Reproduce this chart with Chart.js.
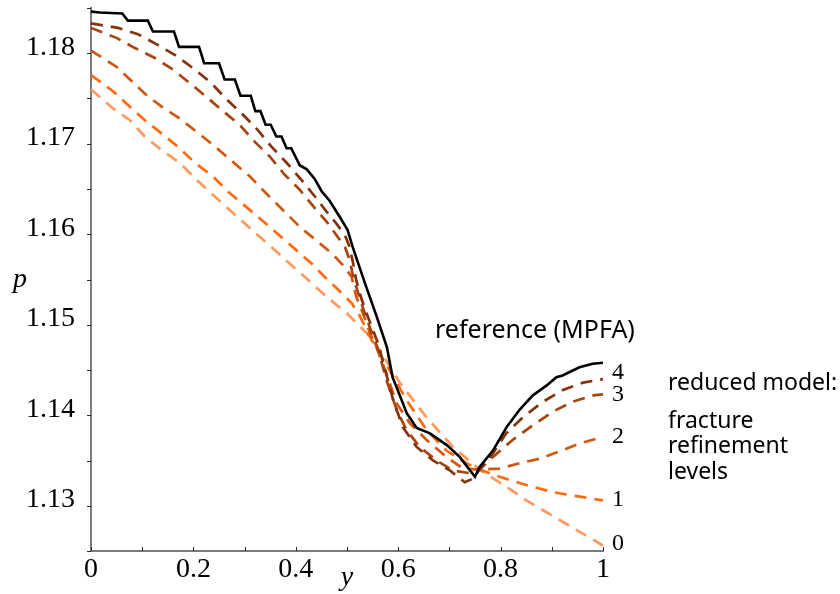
<!DOCTYPE html>
<html>
<head>
<meta charset="utf-8">
<script src="https://cdn.jsdelivr.net/npm/chart.js@4.4.1/dist/chart.umd.min.js"></script>
<style>
  html, body { margin: 0; padding: 0; background: #ffffff; }
  canvas { display: block; }
</style>
</head>
<body>
<canvas id="chart" width="840" height="594"></canvas>
<script>
// Pressure p along the fracture coordinate y.
// Reference solution (MPFA)
const yRef = [0, 0.017, 0.061, 0.072, 0.111, 0.121, 0.162, 0.172, 0.211, 0.221, 0.25, 0.261, 0.281, 0.292, 0.312, 0.321, 0.331, 0.341, 0.351, 0.362, 0.372, 0.382, 0.391, 0.408, 0.421, 0.437, 0.451, 0.466, 0.486, 0.501, 0.511, 0.535, 0.558, 0.578, 0.589, 0.617, 0.636, 0.662, 0.695, 0.72, 0.75, 0.759, 0.785, 0.812, 0.837, 0.863, 0.89, 0.909, 0.921, 0.954, 0.98, 1];
const pRef = [1.1846, 1.1845, 1.1844, 1.1836, 1.1836, 1.1824, 1.1824, 1.1807, 1.1807, 1.1789, 1.1789, 1.1771, 1.1771, 1.1753, 1.1753, 1.1736, 1.1736, 1.1721, 1.1721, 1.1708, 1.1708, 1.1695, 1.1695, 1.1676, 1.1672, 1.1661, 1.1647, 1.1637, 1.1619, 1.1605, 1.1586, 1.1546, 1.1509, 1.1475, 1.1442, 1.1402, 1.1386, 1.1380, 1.1367, 1.1354, 1.1332, 1.1343, 1.1361, 1.1387, 1.1406, 1.1422, 1.1433, 1.1442, 1.1444, 1.1453, 1.1457, 1.1458];

// Reduced model, fracture refinement level 4
const yLvl4 = [0, 0.053, 0.092, 0.131, 0.167, 0.203, 0.235, 0.265, 0.297, 0.326, 0.352, 0.382, 0.411, 0.437, 0.460, 0.479, 0.496, 0.505, 0.512, 0.518, 0.528, 0.538, 0.548, 0.561, 0.590, 0.609, 0.636, 0.668, 0.701, 0.730, 0.746, 0.759, 0.785, 0.811, 0.844, 0.883, 0.922, 0.961, 1];
const pLvl4 = [1.1833, 1.1828, 1.1821, 1.1809, 1.1797, 1.1782, 1.1767, 1.1749, 1.1732, 1.1715, 1.1697, 1.1679, 1.1660, 1.1642, 1.1625, 1.1612, 1.1599, 1.1586, 1.1568, 1.1549, 1.1529, 1.1513, 1.1498, 1.1479, 1.1417, 1.1387, 1.1365, 1.1350, 1.1339, 1.1326, 1.1330, 1.1340, 1.1358, 1.1380, 1.1398, 1.1415, 1.1428, 1.1436, 1.1440];

// level 3
const yLvl3 = [0, 0.050, 0.085, 0.124, 0.160, 0.193, 0.225, 0.258, 0.290, 0.320, 0.349, 0.378, 0.408, 0.434, 0.460, 0.482, 0.496, 0.505, 0.512, 0.528, 0.538, 0.548, 0.561, 0.577, 0.597, 0.616, 0.642, 0.675, 0.707, 0.740, 0.759, 0.785, 0.824, 0.863, 0.902, 0.941, 0.981, 1];
const pLvl3 = [1.1828, 1.1817, 1.1806, 1.1795, 1.1782, 1.1767, 1.1752, 1.1736, 1.1721, 1.1702, 1.1686, 1.1666, 1.1649, 1.1631, 1.1614, 1.1597, 1.1586, 1.1572, 1.1553, 1.1524, 1.1507, 1.1492, 1.1472, 1.1439, 1.1406, 1.1384, 1.1365, 1.1350, 1.1339, 1.1336, 1.1340, 1.1354, 1.1373, 1.1389, 1.1404, 1.1415, 1.1422, 1.1423];

// level 2
const yLvl2 = [0, 0.050, 0.076, 0.108, 0.138, 0.173, 0.209, 0.242, 0.277, 0.310, 0.339, 0.408, 0.434, 0.470, 0.492, 0.509, 0.518, 0.531, 0.544, 0.557, 0.577, 0.597, 0.623, 0.655, 0.694, 0.727, 0.759, 0.798, 0.837, 0.876, 0.915, 0.955, 1];
const pLvl2 = [1.1803, 1.1785, 1.1771, 1.1754, 1.1741, 1.1728, 1.1712, 1.1697, 1.1680, 1.1664, 1.1647, 1.1608, 1.1596, 1.1579, 1.1566, 1.1553, 1.1531, 1.1513, 1.1492, 1.1476, 1.1446, 1.1413, 1.1391, 1.1373, 1.1354, 1.1341, 1.1340, 1.1341, 1.1347, 1.1352, 1.1360, 1.1369, 1.1376];

// level 1
const yLvl1 = [0, 0.043, 0.076, 0.105, 0.141, 0.173, 0.203, 0.238, 0.268, 0.339, 0.408, 0.434, 0.456, 0.486, 0.509, 0.522, 0.535, 0.548, 0.583, 0.616, 0.655, 0.694, 0.733, 0.759, 0.798, 0.850, 0.902, 0.955, 1];
const pLvl1 = [1.1776, 1.1758, 1.1741, 1.1726, 1.1710, 1.1695, 1.1679, 1.1664, 1.1647, 1.1613, 1.1579, 1.1566, 1.1553, 1.1537, 1.1524, 1.1513, 1.1498, 1.1483, 1.1450, 1.1417, 1.1384, 1.1361, 1.1347, 1.1340, 1.1332, 1.1323, 1.1315, 1.1310, 1.1306];

// level 0
const yLvl0 = [0, 0.043, 0.076, 0.105, 0.138, 0.173, 0.203, 0.235, 0.330, 0.427, 0.460, 0.499, 0.538, 0.564, 0.603, 0.655, 0.707, 0.759, 0.811, 0.850, 1];
const pLvl0 = [1.1760, 1.1739, 1.1726, 1.1708, 1.1693, 1.1679, 1.1662, 1.1645, 1.1597, 1.1548, 1.1531, 1.1513, 1.1491, 1.1472, 1.1436, 1.1398, 1.1365, 1.1340, 1.1321, 1.1306, 1.1256];

// Axis ranges and tick labels
const yAxisMin = 1.125, yAxisMax = 1.185, yAxisStep = 0.005;
const xAxisMin = 0, xAxisMax = 1, xAxisStep = 0.1;
const xTickLabels = { 0: '0', 2: '0.2', 4: '0.4', 6: '0.6', 8: '0.8', 10: '1' };
const yTickLabels = { 1130: '1.13', 1140: '1.14', 1150: '1.15', 1160: '1.16', 1170: '1.17', 1180: '1.18' };

const levelLabels = ['0', '1', '2', '3', '4'];
const levelColors = ['#ff9a5c', '#ff6a0e', '#d2570f', '#a8450f', '#84330c'];

const toPoints = (xs, ps) => xs.map((v, i) => ({ x: v, y: ps[i] }));

const dashedLevel = (xs, ps, k) => ({
  label: 'level ' + levelLabels[k],
  data: toPoints(xs, ps),
  borderColor: levelColors[k],
  borderWidth: 2.7,
  borderDash: [12, 8],
  pointRadius: 0,
  tension: 0,
  fill: false
});

const serif = '"Liberation Serif", "DejaVu Serif", serif';
const sans = '"Noto Sans", "Open Sans", sans-serif';

// Tick marks (y outward, x inward), annotations and axis symbols
const decorations = {
  id: 'decorations',
  afterDraw(chart) {
    const { ctx, scales: { x, y } } = chart;
    ctx.save();
    ctx.strokeStyle = '#2a2a2a';
    ctx.lineWidth = 1;
    x.ticks.forEach(t => {
      const px = Math.round(x.getPixelForValue(t.value)) + 0.5;
      ctx.beginPath(); ctx.moveTo(px, y.bottom); ctx.lineTo(px, y.bottom - 4); ctx.stroke();
    });
    y.ticks.forEach(t => {
      const py = Math.round(y.getPixelForValue(t.value)) + 0.5;
      ctx.beginPath(); ctx.moveTo(x.left, py); ctx.lineTo(x.left - 4, py); ctx.stroke();
    });

    ctx.fillStyle = '#000';
    ctx.textBaseline = 'alphabetic';

    // axis symbols
    ctx.font = 'italic 28px ' + serif;
    ctx.textAlign = 'center';
    ctx.fillText('y', x.getPixelForValue(0.5), 585);
    ctx.fillText('p', 20, 287);

    // curve annotations
    ctx.textAlign = 'left';
    ctx.font = '25px ' + sans;
    ctx.fillText('reference (MPFA)', 435, 338);
    ctx.font = '23px ' + sans;
    ctx.fillText('reduced model:', 668, 390);
    ctx.fillText('fracture', 668, 428);
    ctx.fillText('refinement', 668, 453);
    ctx.fillText('levels', 668, 479);

    ctx.font = '24px ' + serif;
    ctx.textBaseline = 'middle';
    const labelY = [544, 500, 437, 395, 373];
    levelLabels.forEach((s, k) => ctx.fillText(s, 612, labelY[k]));
    ctx.restore();
  }
};

new Chart(document.getElementById('chart'), {
  type: 'line',
  data: {
    datasets: [
      {
        label: 'reference (MPFA)',
        data: toPoints(yRef, pRef),
        borderColor: '#000000',
        borderWidth: 2.6,
        pointRadius: 0,
        tension: 0,
        fill: false
      },
      dashedLevel(yLvl4, pLvl4, 4),
      dashedLevel(yLvl3, pLvl3, 3),
      dashedLevel(yLvl2, pLvl2, 2),
      dashedLevel(yLvl1, pLvl1, 1),
      dashedLevel(yLvl0, pLvl0, 0)
    ]
  },
  options: {
    responsive: false,
    animation: false,
    devicePixelRatio: 1,
    layout: { padding: { top: 8, right: 237, bottom: 0, left: 0 } },
    plugins: { legend: { display: false }, tooltip: { enabled: false } },
    scales: {
      x: {
        type: 'linear',
        min: xAxisMin,
        max: xAxisMax,
        border: { display: true, color: '#7c7c7c', width: 2 },
        grid: { display: false, drawTicks: false },
        ticks: {
          stepSize: xAxisStep,
          autoSkip: false,
          maxRotation: 0,
          padding: 2,
          color: '#000',
          font: { family: serif, size: 28 },
          callback: v => xTickLabels[Math.round(v * 10)] || ''
        },
        afterFit: s => { s.height = 43; s.paddingLeft = 0; s.paddingRight = 0; }
      },
      y: {
        type: 'linear',
        min: yAxisMin,
        max: yAxisMax,
        border: { display: true, color: '#7c7c7c', width: 2 },
        grid: { display: false, drawTicks: false },
        ticks: {
          stepSize: yAxisStep,
          autoSkip: false,
          padding: 16,
          labelOffset: -6,
          color: '#000',
          font: { family: serif, size: 28 },
          callback: v => yTickLabels[Math.round(v * 1000)] || ''
        },
        afterFit: s => { s.width = 91; s.paddingTop = 0; s.paddingBottom = 0; }
      }
    }
  },
  plugins: [decorations]
});
</script>
</body>
</html>
